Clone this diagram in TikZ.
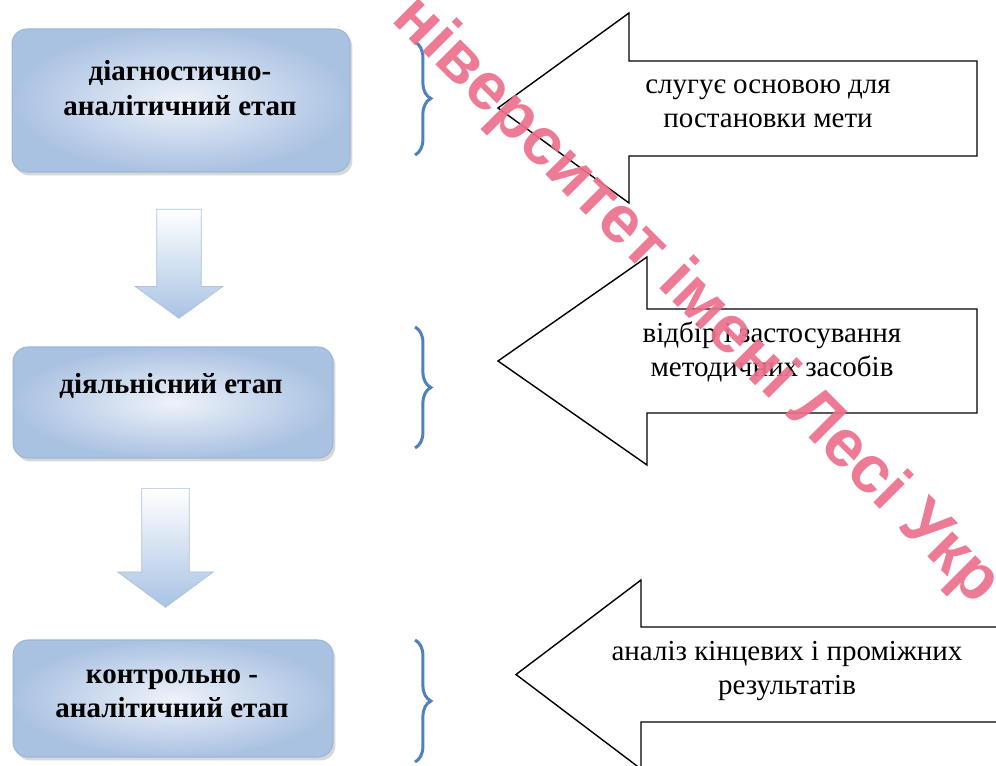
\documentclass[tikz,border=0pt]{standalone}
\usepackage{fontspec}
\setmainfont{Liberation Serif}
\newfontfamily\wmfont{Liberation Sans}
\usetikzlibrary{shapes.arrows,shadows,decorations.pathreplacing}
\definecolor{boxlight}{RGB}{238,242,249}
\definecolor{boxdark}{RGB}{170,194,226}
\definecolor{boxline}{RGB}{155,182,216}
\definecolor{arrblue}{RGB}{168,195,228}
\definecolor{arrline}{RGB}{175,195,222}
\definecolor{braceblue}{RGB}{79,129,189}
\definecolor{wmpink}{RGB}{236,112,140}

\begin{document}
\begin{tikzpicture}[x=0.02cm,y=-0.02cm,
  stage/.style={rounded corners=0.3cm, draw=boxline, line width=0.6pt, inner color=boxlight, outer color=boxdark,
    drop shadow={opacity=0.3, shadow xshift=0.05cm, shadow yshift=-0.07cm}},
  stagetext/.style={align=center, font=\bfseries\fontsize{16.5}{19.5}\selectfont},
  downarrow/.style={single arrow, shape border rotate=270, draw=arrline, line width=0.4pt, top color=white, bottom color=arrblue, anchor=tail},
  bigarrow/.style={draw=black, line width=0.8pt, fill=white},
  note/.style={align=center, font=\fontsize{16.5}{19.5}\selectfont},
  brc/.style={draw=braceblue, line width=1.7pt, decorate, decoration={brace, amplitude=9pt}},
  wm/.style={text=wmpink, opacity=0.92, font=\wmfont\bfseries\fontsize{38}{42}\selectfont}]
\useasboundingbox (0,0) rectangle (996,766);
\clip (0,0) rectangle (996,766);
\fill[white] (0,0) rectangle (996,766);

\node[stage, minimum width=6.76cm, minimum height=2.86cm] (a) at (181,100.5) {};
\node[stage, minimum width=6.4cm, minimum height=2.22cm] (b) at (173,402.5) {};
\node[stage, minimum width=6.4cm, minimum height=2.34cm] (c) at (173,698.5) {};
\node[stagetext] (at) at (180,88) {діагностично-\\аналітичний етап};
\node[stagetext] (bt) at (171,386) {діяльнісний етап};
\node[stagetext] (ct) at (172,694) {контрольно -\\аналітичний етап};

\node[downarrow, inner sep=0.44cm, minimum height=2.18cm, minimum width=1.74cm, single arrow head extend=0.43cm, single arrow tip angle=108] (ab) at (179,209) {};
\node[downarrow, inner sep=0.47cm, minimum height=2.38cm, minimum width=1.9cm, single arrow head extend=0.48cm, single arrow tip angle=107] (bc) at (165.5,488) {};

\draw[brc] (415,42) -- (415,155);
\draw[brc] (415,327) -- (415,448);
\draw[brc] (415,640) -- (415,762);

\draw[bigarrow] (977,61) -- (629,61) -- (629,13) -- (498,108) -- (629,203) -- (629,156) -- (977,156) -- cycle;
\draw[bigarrow] (977,309) -- (647,309) -- (647,257) -- (498,361) -- (647,465) -- (647,413) -- (977,413) -- cycle;
\draw[bigarrow] (1010,627) -- (641,627) -- (641,580) -- (516,674.5) -- (641,769) -- (641,722) -- (1010,722) -- cycle;
\node[note] (aa) at (768,104) {слугує основою для\\постановки мети};
\node[note] (bb) at (772,352) {відбір і застосування\\методичних засобів};
\node[note] (cc) at (787,671) {аналіз кінцевих і проміжних\\результатів};

\node[wm, rotate=-45] (w) at (696,301) {ніверситет імені Лесі Укр};
\end{tikzpicture}
\end{document}
